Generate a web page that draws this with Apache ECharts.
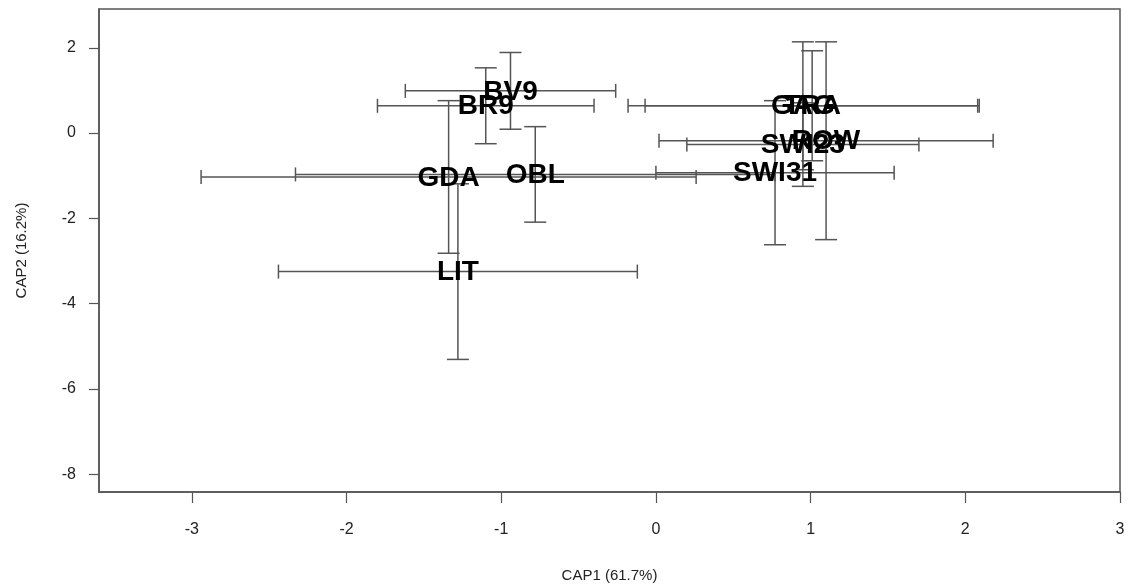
<!DOCTYPE html>
<html>
<head>
<meta charset="utf-8">
<script src="https://cdn.jsdelivr.net/npm/echarts@6/dist/echarts.min.js"></script>
<style>
html,body{margin:0;padding:0;background:#fff;}
#chart{width:1129px;height:588px;}
</style>
</head>
<body>
<div id="chart"></div>
<script>
const categories = ['BV9','BR9','GDA','OBL','LIT','GAG','TRA','ROW','SWI23','SWI31'];
const cap1 = [-0.94,-1.10,-1.34,-0.78,-1.28,0.95,1.01,1.10,0.95,0.77];
const cap2 = [0.99,0.64,-1.03,-0.97,-3.25,0.64,0.64,-0.18,-0.27,-0.93];
const cap1Err = [0.68,0.70,1.60,1.55,1.16,1.13,1.08,1.08,0.75,0.77];
const cap2Err = [0.90,0.89,1.79,1.12,2.06,1.50,1.29,2.32,0.98,1.69];
const xTicks = [-3,-2,-1,0,1,2,3];
const yTicks = [-8,-6,-4,-2,0,2];

const data = categories.map((c,i)=>[cap1[i],cap2[i],cap1Err[i],cap2Err[i],c]);

const barColor = '#555';
function errRender(params, api){
  const x = api.value(0), y = api.value(1), ex = api.value(2), ey = api.value(3);
  const l = api.coord([x-ex,y]), r = api.coord([x+ex,y]);
  const t = api.coord([x,y+ey]), b = api.coord([x,y-ey]);
  const hc = 7, vc = 11;
  const st = {stroke:barColor, lineWidth:1.5};
  const ln = (x1,y1,x2,y2)=>({type:'line', shape:{x1,y1,x2,y2}, style:st});
  return {type:'group', children:[
    ln(l[0],l[1],r[0],r[1]),
    ln(l[0],l[1]-hc,l[0],l[1]+hc),
    ln(r[0],r[1]-hc,r[0],r[1]+hc),
    ln(t[0],t[1],b[0],b[1]),
    ln(t[0]-vc,t[1],t[0]+vc,t[1]),
    ln(b[0]-vc,b[1],b[0]+vc,b[1])
  ]};
}
function textRender(params, api){
  const p = api.coord([api.value(0), api.value(1)]);
  return {type:'text', x:p[0], y:p[1]+1, style:{
    text: categories[params.dataIndex],
    font: 'bold 28px "Liberation Sans", Arial, sans-serif',
    fill:'#000', align:'center', verticalAlign:'middle'
  }};
}

const chart = echarts.init(document.getElementById('chart'), null, {renderer:'canvas'});
chart.setOption({
  animation:false,
  backgroundColor:'#fff',
  grid:{left:99, right:9, top:9, bottom:95, show:true, borderColor:'#555', borderWidth:1.5, backgroundColor:'transparent'},
  xAxis:{
    type:'value', min:-3.6, max:3.0,
    name:'CAP1 (61.7%)', nameLocation:'middle', nameGap:76,
    nameTextStyle:{fontSize:15, color:'#222', fontFamily:'Liberation Sans'},
    splitLine:{show:false},
    axisLine:{show:true, onZero:false, lineStyle:{color:'#555', width:1.5}},
    axisTick:{show:true, length:11, inside:false, customValues:xTicks, lineStyle:{color:'#555', width:1.2}},
    axisLabel:{show:true, margin:30, fontSize:16, color:'#222', fontFamily:'Liberation Sans', customValues:xTicks,
      formatter:v=>String(v)}
  },
  yAxis:{
    type:'value', min:-8.42, max:2.91,
    name:'CAP2 (16.2%)', nameLocation:'middle', nameGap:70, nameRotate:90,
    nameTextStyle:{fontSize:15, color:'#222', fontFamily:'Liberation Sans'},
    splitLine:{show:false},
    axisLine:{show:true, onZero:false, lineStyle:{color:'#555', width:1.5}},
    axisTick:{show:true, length:10, inside:false, customValues:yTicks, lineStyle:{color:'#555', width:1.2}},
    axisLabel:{show:true, margin:23, fontSize:16, color:'#222', fontFamily:'Liberation Sans', customValues:yTicks,
      formatter:v=>String(v)}
  },
  series:[
    {type:'custom', renderItem:errRender, data:data, encode:{x:0,y:1}, z:2, silent:true},
    {type:'custom', renderItem:textRender, data:data, encode:{x:0,y:1}, z:3, silent:true}
  ]
});
</script>
</body>
</html>
